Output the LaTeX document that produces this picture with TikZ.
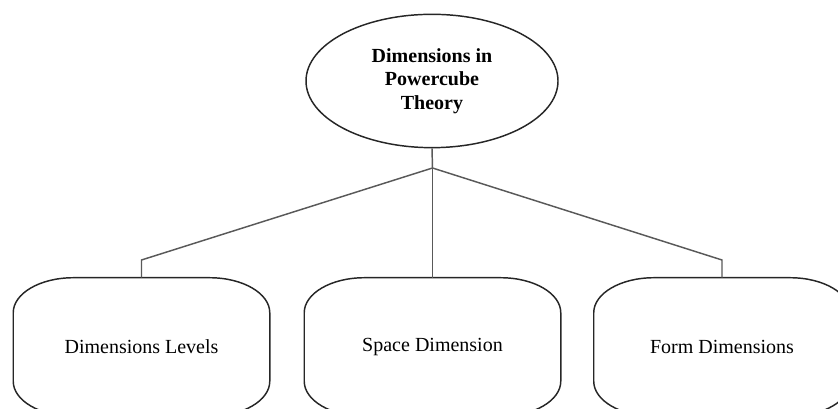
\documentclass[tikz,border=0pt]{standalone}
\usepackage{fontspec}
\setmainfont{Liberation Serif}
\usepackage{tikz}
\usetikzlibrary{positioning,calc,shapes.geometric}

\tikzset{
  rootnode/.style={ellipse,draw=black!85,line width=1.1pt,minimum width=189pt,minimum height=100pt,
    align=center,font=\fontsize{15}{17.6}\selectfont\bfseries,inner sep=0pt},
  dimnode/.style={minimum width=192pt,minimum height=103.5pt,inner sep=0pt,
    font=\fontsize{15}{17.6}\selectfont},
  boxline/.style={draw=black!85,line width=1.1pt},
  link/.style={draw=black!65,line width=1.1pt}
}
% outline with elliptic corners round a named node
\newcommand{\softbox}[1]{%
  \draw[boxline] ($(#1.north west)+(60,0)$) -- ($(#1.north east)+(-60,0)$)
    arc[start angle=90,end angle=0,x radius=60,y radius=35]
    -- ($(#1.south east)+(0,35)$)
    arc[start angle=0,end angle=-90,x radius=60,y radius=35]
    -- ($(#1.south west)+(60,0)$)
    arc[start angle=270,end angle=180,x radius=60,y radius=35]
    -- ($(#1.north west)+(0,-35)$)
    arc[start angle=180,end angle=90,x radius=60,y radius=35];}

\begin{document}
\begin{tikzpicture}[x=0.75pt,y=0.75pt]
  \clip (0,0) rectangle (838,409);
  % top node and the three dimensions below it
  \node[rootnode] (root) at (432,328) {Dimensions in\\Powercube\\Theory};
  \node[dimnode] (levels) at (141.5,62) {Dimensions Levels};
  \node[dimnode] (space) at (432.5,62) {Space Dimension};
  \node[dimnode] (form) at (722,62) {Form Dimensions};
  \softbox{levels}
  \softbox{space}
  \softbox{form}
  \coordinate (fork) at (432.5,241);
  \coordinate (bendL) at (141.5,149);
  \coordinate (bendR) at (722,149);
  \draw[link] (root.south) -- (fork);
  \draw[link] (fork) -- (bendL) -- (levels.north);
  \draw[link] (fork) -- (space.north);
  \draw[link] (fork) -- (bendR) -- (form.north);
\end{tikzpicture}
\end{document}
